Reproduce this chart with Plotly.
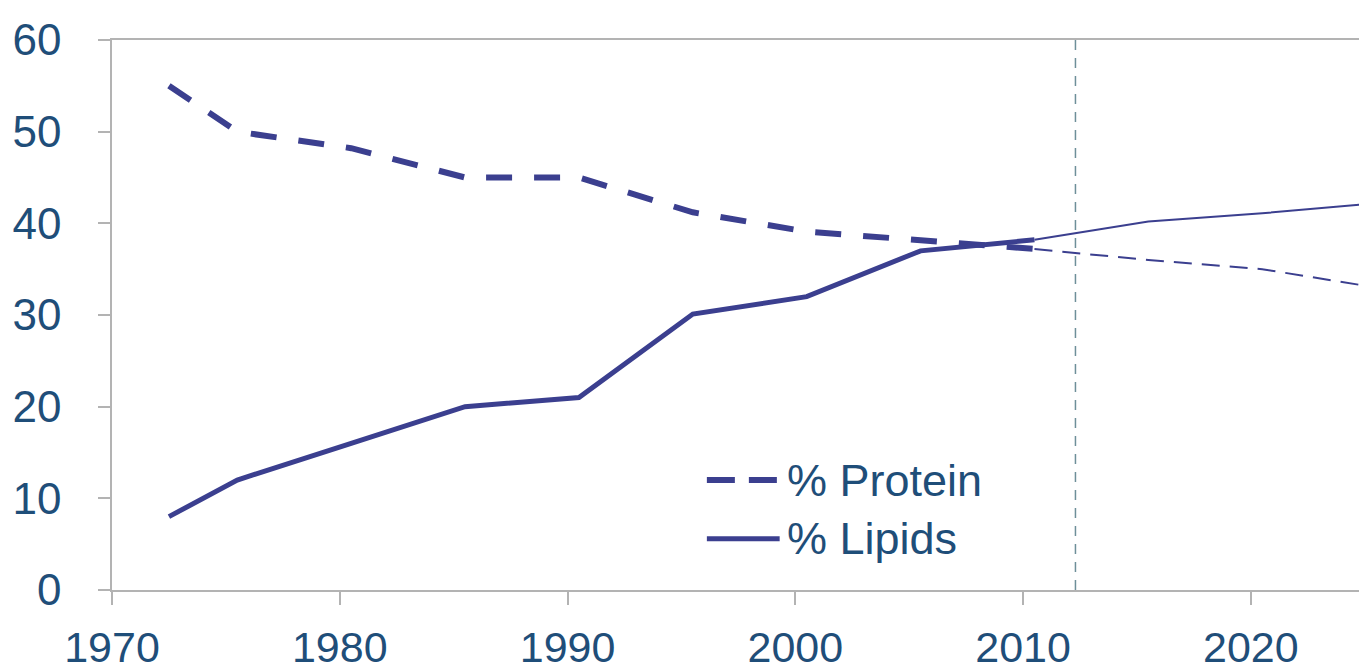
import plotly.graph_objects as go

# observed data (thick lines)
years = [1972.5, 1975.5, 1980.5, 1985.5, 1990.5, 1995.5, 2000.5, 2005.5, 2010.5]
protein = [55.0, 50.0, 48.2, 45.0, 45.0, 41.2, 39.1, 38.2, 37.2]
lipids = [8.0, 12.0, 16.0, 20.0, 21.0, 30.1, 32.0, 37.0, 38.2]

# projections (thin lines)
proj_years = [2010.5, 2015.5, 2020.5, 2025.5]
proj_protein = [37.2, 36.0, 35.0, 33.0]
proj_lipids = [38.2, 40.2, 41.1, 42.2]

projection_start = 2012.3
x_ticks = [1970, 1980, 1990, 2000, 2010, 2020]
y_ticks = [0, 10, 20, 30, 40, 50, 60]
legend_names = ["% Protein", "% Lipids"]

line_col = "#3b3f8f"
text_col = "#1f4e79"
axis_col = "#b3b3b3"
font = "Arial, Liberation Sans, sans-serif"

fig = go.Figure()

fig.add_trace(go.Scatter(x=years, y=protein, mode="lines", name=legend_names[0],
                         line=dict(color=line_col, width=6, dash="26px,22px"),
                         showlegend=False))
fig.add_trace(go.Scatter(x=years, y=lipids, mode="lines", name=legend_names[1],
                         line=dict(color=line_col, width=5),
                         showlegend=False))
fig.add_trace(go.Scatter(x=proj_years, y=proj_protein, mode="lines",
                         line=dict(color=line_col, width=2, dash="18px,10px"),
                         showlegend=False))
fig.add_trace(go.Scatter(x=proj_years, y=proj_lipids, mode="lines",
                         line=dict(color=line_col, width=2),
                         showlegend=False))

fig.add_vline(x=projection_start, line=dict(color="#6e8f99", width=1.5, dash="10px,8px"))

# legend drawn by hand so the key lines are as long as in the original
fig.add_shape(type="line", xref="paper", yref="paper", x0=0.474, x1=0.532, y0=0.2, y1=0.2,
              line=dict(color=line_col, width=6, dash="28px,14px"))
fig.add_shape(type="line", xref="paper", yref="paper", x0=0.474, x1=0.532, y0=0.093, y1=0.093,
              line=dict(color=line_col, width=5))
for name, yy in zip(legend_names, [0.2, 0.093]):
    fig.add_annotation(x=0.536, y=yy, xref="paper", yref="paper", text=name,
                       showarrow=False, xanchor="left", yanchor="middle",
                       font=dict(size=45, color=text_col, family=font))

fig.update_xaxes(range=[1970, 2025.1], tickvals=x_ticks, showgrid=False, zeroline=False,
                 showline=True, linecolor=axis_col, linewidth=1.5, mirror=True,
                 ticks="outside", ticklen=13, tickcolor=axis_col, tickwidth=1.5,
                 ticklabelstandoff=6,
                 tickfont=dict(size=43, color=text_col, family=font))
fig.update_yaxes(range=[0, 60], tickvals=y_ticks, showgrid=False, zeroline=False,
                 showline=True, linecolor=axis_col, linewidth=1.5,
                 ticks="outside", ticklen=12, tickcolor=axis_col, tickwidth=1.5,
                 ticklabelstandoff=28,
                 tickfont=dict(size=44, color=text_col, family=font))

fig.update_layout(
    width=1359, height=663,
    margin=dict(l=104, r=0, t=32, b=70),
    plot_bgcolor="white", paper_bgcolor="white",
    showlegend=False,
)

fig.write_html("out.html")
